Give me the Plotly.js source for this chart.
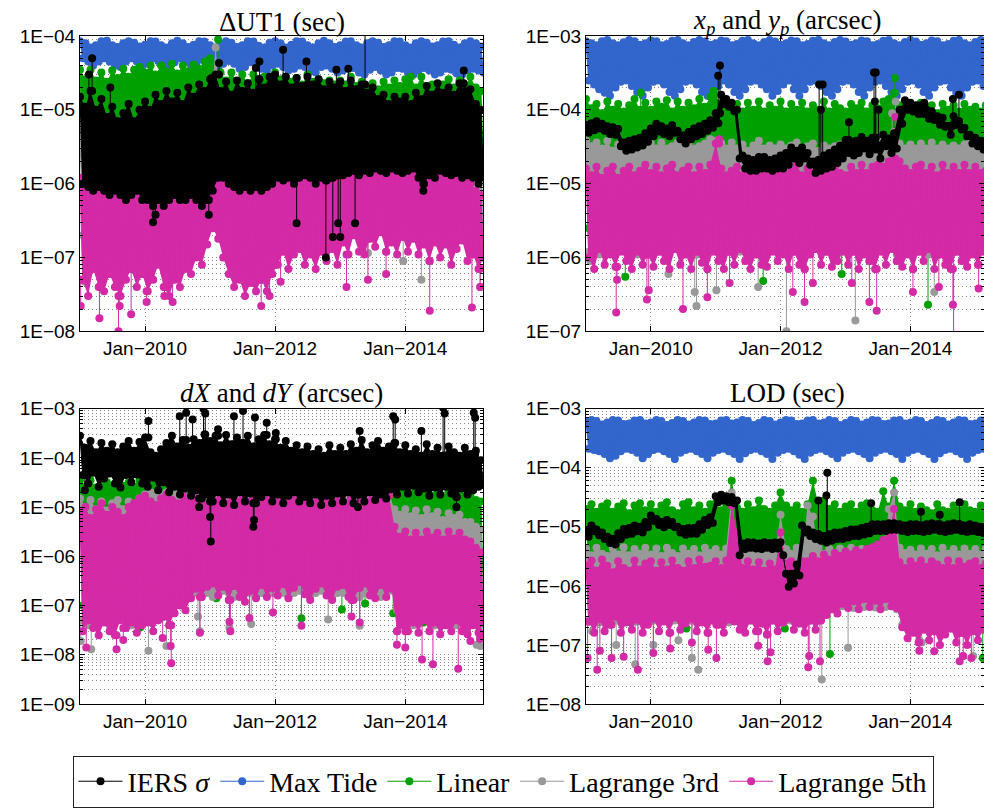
<!DOCTYPE html>
<html>
<head>
<meta charset="utf-8">
<script src="https://cdn.plot.ly/plotly-3.0.1.min.js"></script>
<style>html,body{margin:0;padding:0;background:#fff}#chart{width:984px;height:808px}</style>
</head>
<body>
<div id="chart"></div>
<script>
// ---------- categories ----------
const seriesKeys = ['tide','lin','l3','l5','iers'];
const seriesNames = {iers:'IERS <i>σ</i>', tide:'Max Tide', lin:'Linear', l3:'Lagrange 3rd', l5:'Lagrange 5th'};
const legendOrder = {iers:1, tide:2, lin:3, l3:4, l5:5};
const panelTitles = ['ΔUT1 (sec)', '<i>x<sub>p</sub></i> and <i>y<sub>p</sub></i> (arcsec)', '<i>dX</i> and <i>dY</i> (arcsec)', 'LOD (sec)'];
const xTickDates = ['2010-01-01','2012-01-01','2014-01-01'];
const xTickText = ['Jan−2010','Jan−2012','Jan−2014'];
const yDecades = [[-8,-4],[-7,-3],[-9,-3],[-8,-3]];
const firstYear = 2009, monthCount = 75; // Jan 2009 .. Mar 2015 (hi read at day 1, lo at day 16)

// ---------- ΔUT1 ----------
const dut1_tide_hi = [8.5e-5,8e-5,7e-5,7.5e-5,8.5e-5,8.6e-5,7.5e-5,7.1e-5,8e-5,8.5e-5,8.1e-5,7.2e-5,
 7.6e-5,8.5e-5,8.4e-5,7.5e-5,7e-5,8e-5,8.6e-5,8e-5,7.1e-5,7.6e-5,8.5e-5,8.4e-5,
 7.5e-5,7e-5,8e-5,8.5e-5,8.1e-5,7.1e-5,7.5e-5,8.5e-5,8.4e-5,7.4e-5,7e-5,8.1e-5,
 8.5e-5,8e-5,7e-5,7.6e-5,8.5e-5,8.4e-5,7.5e-5,7e-5,8e-5,8.6e-5,8e-5,7.1e-5,
 7.5e-5,8.4e-5,8.5e-5,7.5e-5,7e-5,8e-5,8.5e-5,8.1e-5,7.1e-5,7.5e-5,8.5e-5,8.4e-5,
 7.5e-5,7e-5,8e-5,8.5e-5,8.1e-5,7.2e-5,7.5e-5,8.4e-5,8.5e-5,7.6e-5,7e-5,8e-5,
 8.5e-5,8e-5,7.2e-5];
const dut1_tide_lo = [5e-5,4.5e-5,4e-5,4.5e-5,5e-5,4.5e-5,4e-5,3.8e-5,4.5e-5,5e-5,4.5e-5,4e-5,
 4.2e-5,5e-5,4.6e-5,4e-5,3.8e-5,4.4e-5,5e-5,4.5e-5,4e-5,4.2e-5,4.8e-5,4.5e-5,
 4e-5,3.6e-5,4.2e-5,4.6e-5,4.2e-5,3.6e-5,3.8e-5,4.4e-5,4.2e-5,3.6e-5,3.4e-5,4e-5,
 4.2e-5,3.8e-5,3.4e-5,3.6e-5,4e-5,3.8e-5,3.3e-5,3.2e-5,3.8e-5,4e-5,3.6e-5,3.2e-5,
 3.4e-5,3.9e-5,3.7e-5,3.2e-5,3e-5,3.5e-5,3.8e-5,3.4e-5,3e-5,3.2e-5,3.7e-5,3.6e-5,
 3.2e-5,3e-5,3.4e-5,3.7e-5,3.4e-5,3e-5,3.2e-5,3.6e-5,3.5e-5,3.1e-5,3e-5,3.4e-5,
 3.6e-5,3.4e-5,3.2e-5];
const dut1_tide_spk_d = [], dut1_tide_spk_v = [];
const dut1_lin_hi = [3.5e-5,2.6e-5,3.5e-5,2.5e-5,3.2e-5,2.4e-5,3.4e-5,2.7e-5,3.6e-5,2.8e-5,3.5e-5,3.8e-5,
 3.2e-5,4e-5,3e-5,4e-5,3.3e-5,4.2e-5,3.1e-5,4e-5,3.3e-5,4.1e-5,3.6e-5,4.5e-5,
 5e-5,4.2e-5,3.2e-5,2.5e-5,3.2e-5,2.4e-5,3e-5,2.3e-5,3e-5,2.4e-5,2.8e-5,2.5e-5,
 3.2e-5,2.6e-5,2.8e-5,2.4e-5,2.7e-5,2.2e-5,3e-5,2.4e-5,2.6e-5,2.3e-5,2.5e-5,2.2e-5,
 2.5e-5,2.2e-5,2.8e-5,2.1e-5,2.4e-5,2e-5,2.3e-5,1.9e-5,2.4e-5,2e-5,2.5e-5,2.1e-5,
 2.6e-5,2.8e-5,2e-5,2.8e-5,2.1e-5,2.2e-5,2e-5,2.2e-5,2.6e-5,2e-5,2.5e-5,2e-5,
 2.8e-5,2e-5,1.8e-5];
const dut1_lin_lo = [2.5e-6,2e-6,2.5e-6,3e-6,2.5e-6,2e-6,2.5e-6,2e-6,2.5e-6,2e-6,2.5e-6,3e-6,
 3e-6,2.5e-6,3e-6,3.5e-6,3e-6,3.5e-6,3e-6,3.5e-6,4e-6,3.5e-6,4e-6,3.5e-6,
 4e-6,5e-6,4e-6,3.5e-6,4e-6,3.5e-6,4e-6,3.5e-6,4e-6,3.5e-6,4e-6,4.5e-6,
 4e-6,4.5e-6,4e-6,4.5e-6,4e-6,3.5e-6,4e-6,4.5e-6,4e-6,3.5e-6,4e-6,3.5e-6,
 4e-6,3.5e-6,4e-6,4.5e-6,4e-6,3.5e-6,3e-6,3.5e-6,3e-6,3.5e-6,3e-6,3.5e-6,
 3.5e-6,4e-6,3.5e-6,4e-6,3.5e-6,4e-6,4.5e-6,4e-6,3.5e-6,4e-6,3.5e-6,3e-6,
 3e-6,2.5e-6,2e-6];
const dut1_lin_spk_d = ['2011-02-15','2011-01-01','2014-02-25'];
const dut1_lin_spk_v = [9e-5,3.2e-7,2.6e-7];
const dut1_l3_hi = [5e-6,4e-6,5e-6,4.5e-6,4e-6,3.5e-6,3e-6,3.5e-6,3e-6,3.5e-6,3e-6,3.5e-6,
 4e-6,4.5e-6,4e-6,5e-6,4.5e-6,5e-6,4.5e-6,5e-6,5.5e-6,5e-6,6e-6,6e-6,
 8e-6,7e-5,6e-6,5e-6,5.5e-6,5e-6,5.5e-6,5e-6,6e-6,5.5e-6,5e-6,6e-6,
 5.5e-6,6e-6,5e-6,5.5e-6,6e-6,5e-6,5.5e-6,6e-6,5e-6,5.5e-6,5e-6,5.5e-6,
 5e-6,5.5e-6,6e-6,5e-6,5.5e-6,5e-6,4.5e-6,5e-6,4.5e-6,4e-6,4.5e-6,4e-6,
 4.5e-6,4e-6,4.5e-6,5e-6,4.5e-6,5e-6,5.5e-6,5e-6,4.5e-6,5e-6,4.5e-6,4e-6,
 3.5e-6,3e-6,2.5e-6];
const dut1_l3_lo = [2e-7,1.5e-7,2e-7,1.8e-7,1.5e-7,2e-7,1.8e-7,1.5e-7,2e-7,1.8e-7,2e-7,1.5e-7,
 1.8e-7,2e-7,1.5e-7,1.8e-7,2e-7,2.2e-7,2e-7,2.2e-7,2.5e-7,2.2e-7,2.5e-7,3e-7,
 3.5e-7,3e-7,2.5e-7,2e-7,1.8e-7,1.5e-7,1.8e-7,1.5e-7,1.8e-7,2e-7,1.8e-7,2e-7,
 2e-7,2.2e-7,2e-7,2.5e-7,2.2e-7,2e-7,2.2e-7,2.5e-7,2.2e-7,2e-7,2.2e-7,2.5e-7,
 2.5e-7,2.8e-7,2.5e-7,3e-7,2.8e-7,2.5e-7,2.8e-7,3e-7,2.8e-7,2.5e-7,2.8e-7,2.5e-7,
 2.5e-7,2.8e-7,2.5e-7,2.8e-7,2.5e-7,2.2e-7,2.5e-7,2.8e-7,2.5e-7,2.2e-7,2.5e-7,2.2e-7,
 2e-7,2.2e-7,2e-7];
const dut1_l3_spk_d = ['2009-01-28','2009-06-15','2010-09-18','2011-09-18','2012-08-12','2013-06-05','2013-12-20','2014-04-01','2015-02-25'];
const dut1_l3_spk_v = [4.7e-8,9e-8,1.1e-7,6.6e-8,1.1e-7,1.15e-7,9e-8,5e-8,4e-8];
const dut1_l5_hi = [1.2e-6,1e-6,1.1e-6,9e-7,1e-6,1.1e-6,9e-7,1e-6,8e-7,9e-7,1e-6,1.1e-6,
 1e-6,1.2e-6,1e-6,1.1e-6,9e-7,1e-6,1.2e-6,1e-6,1.1e-6,1.3e-6,1.2e-6,1.5e-6,
 2.5e-6,3.6e-6,2.5e-6,2e-6,1.8e-6,1.6e-6,1.8e-6,1.6e-6,1.8e-6,1.7e-6,1.9e-6,2e-6,
 2e-6,1.8e-6,2.2e-6,2e-6,1.8e-6,2e-6,2.2e-6,1.9e-6,2e-6,1.8e-6,2.1e-6,2e-6,
 2e-6,1.9e-6,2.2e-6,2e-6,1.8e-6,2.1e-6,1.9e-6,2e-6,2.2e-6,2e-6,2.3e-6,2.1e-6,
 2.2e-6,2e-6,2.4e-6,2.2e-6,2e-6,2.3e-6,2.1e-6,2.4e-6,2.2e-6,2e-6,2.2e-6,1.8e-6,
 1e-6,8e-7,7e-7];
const dut1_l5_lo = [5e-8,3e-8,7e-8,4e-8,3.5e-8,6e-8,4e-8,3e-8,5e-8,7e-8,4e-8,6e-8,
 3.5e-8,5e-8,8e-8,4e-8,3e-8,5e-8,4e-8,7e-8,6e-8,1e-7,8e-8,1.5e-7,
 2.5e-7,1.8e-7,1e-7,6e-8,4e-8,5e-8,3e-8,4.5e-8,3.5e-8,5e-8,3.5e-8,6e-8,
 8e-8,1.2e-7,7e-8,1.1e-7,1.3e-7,8e-8,1.1e-7,7e-8,1.2e-7,9e-8,1.3e-7,8e-8,
 1.6e-7,1.1e-7,2e-7,1.2e-7,1.1e-7,1.8e-7,1.4e-7,2.2e-7,1.2e-7,1.6e-7,1.1e-7,1.9e-7,
 1.2e-7,1.8e-7,1.1e-7,1.5e-7,9e-8,1.6e-7,1e-7,1.5e-7,8e-8,1.3e-7,1.7e-7,9e-8,
 1.1e-7,7e-8,1e-7];
const dut1_l5_spk_d = ['2009-01-05','2009-04-20','2009-08-05','2009-08-12','2009-10-15','2010-01-10','2010-04-20','2010-06-05','2011-10-15','2011-12-01','2012-02-01','2013-02-05','2013-06-05','2013-09-15','2014-05-18','2015-01-10','2015-02-25'];
const dut1_l5_spk_v = [2.2e-8,1.5e-8,1e-8,2.2e-8,1.7e-8,2.5e-8,3e-8,2.5e-8,2.2e-8,3e-8,4.7e-8,4e-8,5e-8,6e-8,1.9e-8,2.1e-8,4e-8];
const dut1_iers_hi = [1.5e-5,1.1e-5,1.8e-5,1e-5,1.4e-5,8e-6,1.1e-5,7e-6,9e-6,1.2e-5,7e-6,1e-5,
 1.3e-5,1e-5,1.6e-5,1.2e-5,1.8e-5,1.3e-5,1.7e-5,1.2e-5,2e-5,1.5e-5,2.2e-5,1.8e-5,
 2.6e-5,3e-5,1.8e-5,2.4e-5,1.6e-5,2.5e-5,1.8e-5,2.3e-5,1.7e-5,2.6e-5,2e-5,2.8e-5,
 3e-5,2.2e-5,2.8e-5,2e-5,2.7e-5,2.1e-5,2.8e-5,2.2e-5,2.6e-5,1.9e-5,2.4e-5,2e-5,
 2.4e-5,1.8e-5,2.5e-5,1.9e-5,2.2e-5,1.7e-5,2e-5,1.4e-5,1.6e-5,1.2e-5,1.5e-5,1.3e-5,
 1.5e-5,1.2e-5,1.7e-5,1.4e-5,2.1e-5,1.6e-5,2.3e-5,1.7e-5,2e-5,1.6e-5,2.3e-5,1.8e-5,
 1.9e-5,1.2e-5,1e-5];
const dut1_iers_lo = [1e-6,9e-7,8e-7,9e-7,8e-7,7e-7,8e-7,7e-7,6e-7,7e-7,8e-7,6e-7,
 6e-7,5e-7,6e-7,5e-7,6e-7,7e-7,6e-7,6e-7,7e-7,6e-7,5e-7,6e-7,
 8e-7,1.2e-6,1.2e-6,1e-6,9e-7,8e-7,9e-7,8e-7,9e-7,8e-7,9e-7,1e-6,
 1.2e-6,1.1e-6,1.2e-6,1e-6,1.2e-6,1.3e-6,1.2e-6,1e-6,1.2e-6,1.1e-6,1.2e-6,1.3e-6,
 1.3e-6,1.4e-6,1.5e-6,1.3e-6,1.5e-6,1.4e-6,1.6e-6,1.5e-6,1.4e-6,1.6e-6,1.5e-6,1.4e-6,
 1.5e-6,1.6e-6,1.2e-6,1e-6,1.3e-6,1.2e-6,1.5e-6,1.4e-6,1.3e-6,1.4e-6,1.2e-6,1.3e-6,
 1.2e-6,1e-6,1.2e-6];
const dut1_iers_spk_d = ['2009-02-20','2009-03-10','2009-06-20','2011-01-10','2011-02-20','2011-09-15','2011-10-05','2012-02-15','2012-06-25','2012-12-10','2013-02-15','2013-05-20','2014-11-25','2010-02-15','2010-03-01','2010-12-25','2012-05-01','2012-10-12','2012-11-20','2012-12-20','2013-01-01','2013-03-25','2014-04-12'];
const dut1_iers_spk_v = [3e-5,5e-5,2e-5,2.7e-5,4.3e-5,3.7e-5,4.5e-5,6.5e-5,4.5e-5,3.5e-5,3.6e-5,1.5e-4,3.4e-5,3e-7,3.8e-7,3.8e-7,2.9e-7,1e-7,1.9e-7,2.9e-7,1.9e-7,2.9e-7,8e-7];

// ---------- x_p and y_p ----------
const pm_tide_hi = [8.5e-4,8e-4,7.5e-4,8.5e-4,8.8e-4,8e-4,7.5e-4,8.2e-4,8.8e-4,8.5e-4,7.6e-4,8e-4,
 8.7e-4,8.5e-4,7.5e-4,7.8e-4,8.6e-4,8.8e-4,8e-4,7.5e-4,8.3e-4,8.8e-4,8.4e-4,7.6e-4,
 8e-4,8.7e-4,8.5e-4,7.5e-4,7.8e-4,8.6e-4,8.8e-4,8e-4,7.5e-4,8.3e-4,8.8e-4,8.4e-4,
 7.6e-4,8e-4,8.7e-4,8.5e-4,7.5e-4,7.8e-4,8.6e-4,8.8e-4,8e-4,7.5e-4,8.3e-4,8.8e-4,
 8.4e-4,7.6e-4,8e-4,8.7e-4,8.5e-4,7.5e-4,7.8e-4,8.6e-4,8.8e-4,8e-4,7.5e-4,8.3e-4,
 8.8e-4,8.4e-4,7.6e-4,8e-4,8.7e-4,8.5e-4,7.5e-4,7.8e-4,8.6e-4,8.8e-4,8e-4,7.5e-4,
 8.3e-4,8.8e-4,8.4e-4];
const pm_tide_lo = [2.5e-4,2.2e-4,1.9e-4,1.7e-4,1.55e-4,2e-4,2.4e-4,2.5e-4,2.1e-4,1.75e-4,1.55e-4,2e-4,
 2.4e-4,2.5e-4,2.2e-4,1.75e-4,1.55e-4,1.9e-4,2.4e-4,2.5e-4,2.2e-4,1.75e-4,1.55e-4,1.7e-4,
 2.1e-4,2.5e-4,2.2e-4,1.75e-4,1.55e-4,1.9e-4,2.4e-4,2.5e-4,2.2e-4,1.9e-4,1.55e-4,1.8e-4,
 2.2e-4,2.5e-4,1.9e-4,1.55e-4,1.9e-4,2.4e-4,2.5e-4,2.1e-4,1.75e-4,1.55e-4,1.9e-4,2.4e-4,
 2.5e-4,2.2e-4,1.75e-4,1.55e-4,2e-4,2.4e-4,2.5e-4,2.1e-4,1.75e-4,1.55e-4,1.9e-4,2.4e-4,
 2.5e-4,2.2e-4,1.75e-4,1.55e-4,2e-4,2.4e-4,2.5e-4,2e-4,1.7e-4,1.55e-4,2e-4,2.4e-4,
 2.5e-4,2.1e-4,1.75e-4];
const pm_tide_spk_d = [], pm_tide_spk_v = [];
const pm_lin_hi = [1.4e-4,1.05e-4,1.2e-4,9e-5,1.3e-4,1e-4,1.2e-4,9.5e-5,1.15e-4,1.4e-4,1e-4,1.25e-4,
 1e-4,1.3e-4,1.1e-4,1.35e-4,9.5e-5,1.3e-4,1e-4,1.25e-4,1.05e-4,1.4e-4,1.1e-4,1.5e-4,
 1.25e-4,1e-4,1.3e-4,1.05e-4,1.2e-4,9.5e-5,1.25e-4,1e-4,1.3e-4,9.5e-5,1.15e-4,1e-4,
 1.3e-4,9.5e-5,1.2e-4,1e-4,1.25e-4,9.5e-5,1.15e-4,1e-4,1.3e-4,9.5e-5,1.2e-4,1.05e-4,
 9.5e-5,1.2e-4,1.05e-4,1.25e-4,9.5e-5,1.15e-4,1.05e-4,1.3e-4,1.4e-4,1.7e-4,1.15e-4,1e-4,
 1.2e-4,9.5e-5,1.25e-4,1e-4,1.15e-4,9e-5,1.2e-4,1e-4,1.15e-4,9.5e-5,1.2e-4,1e-4,
 1.1e-4,9.5e-5,1.15e-4];
const pm_lin_lo = [2.5e-6,3e-6,2.5e-6,2e-6,2.5e-6,3e-6,2.5e-6,2e-6,2.5e-6,3e-6,2.5e-6,3e-6,
 2.5e-6,2e-6,2.5e-6,3e-6,2.5e-6,2e-6,3e-6,2.5e-6,2e-6,2.5e-6,3e-6,2.5e-6,
 3e-6,2.5e-6,2e-6,2.5e-6,3e-6,2.5e-6,2e-6,2.5e-6,3e-6,2.5e-6,2e-6,2.5e-6,
 2.5e-6,3e-6,2.5e-6,2e-6,2.5e-6,3e-6,2.5e-6,2e-6,2.5e-6,3e-6,2.5e-6,2e-6,
 2.5e-6,3e-6,2.5e-6,2e-6,2.5e-6,3e-6,2.5e-6,3e-6,3.5e-6,3e-6,2.5e-6,2e-6,
 2.5e-6,3e-6,2.5e-6,2e-6,2.5e-6,3e-6,2.5e-6,2e-6,2.5e-6,3e-6,2.5e-6,2e-6,
 2.5e-6,3e-6,2.5e-6];
const pm_lin_spk_d = ['2009-11-05','2010-12-20','2013-10-05','2009-08-10','2011-09-25','2012-12-10','2014-04-10'];
const pm_lin_spk_v = [1.7e-4,1.8e-4,2.7e-4,5.5e-7,4.8e-7,6e-7,2.3e-7];
const pm_l3_hi = [3.8e-5,3.2e-5,3.6e-5,3e-5,3.8e-5,2.8e-5,3.4e-5,3e-5,3.6e-5,3e-5,3.6e-5,3e-5,
 3.5e-5,3e-5,3.6e-5,3e-5,3.2e-5,3.6e-5,3e-5,3.6e-5,3e-5,3.2e-5,3.5e-5,4e-5,
 3.8e-5,3.5e-5,3e-5,3.6e-5,3e-5,3.4e-5,2.8e-5,3.3e-5,3.8e-5,3e-5,3.3e-5,3e-5,
 3.4e-5,3e-5,3.3e-5,3.6e-5,3e-5,3.2e-5,3.5e-5,2.8e-5,3.3e-5,3e-5,3.2e-5,3.4e-5,
 3e-5,3.5e-5,3e-5,3.4e-5,3e-5,3.5e-5,3.6e-5,3.8e-5,4e-5,5e-5,3.5e-5,3e-5,
 3.4e-5,3e-5,3.5e-5,3e-5,3.6e-5,3e-5,3.4e-5,3e-5,3.3e-5,3e-5,3.4e-5,3.6e-5,
 3e-5,3.5e-5,3e-5];
const pm_l3_lo = [1.2e-6,1.4e-6,1.1e-6,1.3e-6,1.2e-6,1.5e-6,1.3e-6,1.2e-6,1.4e-6,1.1e-6,1.3e-6,1.2e-6,
 1.3e-6,1.2e-6,1.4e-6,1.1e-6,1.3e-6,1.5e-6,1.2e-6,1.3e-6,1.1e-6,1.4e-6,1.2e-6,1.3e-6,
 1.2e-6,1.4e-6,1.3e-6,1.1e-6,1.2e-6,1.4e-6,1.3e-6,1.5e-6,1.2e-6,1.1e-6,1.3e-6,1.2e-6,
 1.4e-6,1.2e-6,1.3e-6,1.1e-6,1.4e-6,1.2e-6,1.3e-6,1.5e-6,1.2e-6,1.3e-6,1.1e-6,1.4e-6,
 1.2e-6,1.3e-6,1.1e-6,1.4e-6,1.2e-6,1.3e-6,1.5e-6,1.2e-6,1.4e-6,1.1e-6,1.3e-6,1.2e-6,
 1.3e-6,1.2e-6,1.4e-6,1.1e-6,1.3e-6,1.2e-6,1.5e-6,1.3e-6,1.2e-6,1.4e-6,1.1e-6,1.3e-6,
 1.2e-6,1.4e-6,1.3e-6];
const pm_l3_spk_d = ['2009-01-25','2010-04-10','2010-09-05','2010-09-15','2011-01-05','2011-08-28','2012-02-03','2013-02-25','2014-05-15','2013-09-20','2013-10-10'];
const pm_l3_spk_v = [9e-7,6e-7,3.4e-7,2.2e-7,3.6e-7,4e-7,1e-7,1.4e-7,3.4e-7,9e-5,1.3e-4];
const pm_l5_hi = [1.6e-5,1.3e-5,1.7e-5,1.2e-5,1.5e-5,1.7e-5,1.2e-5,1.5e-5,1.7e-5,1.3e-5,1.5e-5,1.8e-5,
 1.4e-5,1.7e-5,1.3e-5,1.6e-5,1.8e-5,1.3e-5,1.5e-5,1.7e-5,1.3e-5,1.7e-5,1.4e-5,1.8e-5,
 3.5e-5,1.6e-5,1.3e-5,1.5e-5,1.7e-5,1.3e-5,1.7e-5,1.3e-5,1.5e-5,1.7e-5,1.3e-5,1.6e-5,
 1.7e-5,1.3e-5,1.5e-5,1.8e-5,1.3e-5,1.6e-5,1.4e-5,1.3e-5,1.7e-5,1.4e-5,1.7e-5,1.4e-5,
 1.3e-5,1.7e-5,1.4e-5,1.8e-5,1.4e-5,1.7e-5,1.8e-5,1.7e-5,2e-5,2.2e-5,2e-5,1.6e-5,
 1.4e-5,1.7e-5,1.8e-5,1.4e-5,1.7e-5,1.3e-5,1.8e-5,1.4e-5,1.7e-5,1.4e-5,1.8e-5,1.4e-5,
 1.7e-5,1.4e-5,1.5e-5];
const pm_l5_lo = [1e-6,7e-7,1.3e-6,8e-7,1.1e-6,7.5e-7,1.2e-6,9e-7,7e-7,1.2e-6,8e-7,1.1e-6,
 7.5e-7,1.2e-6,9e-7,7e-7,1.3e-6,8e-7,1.1e-6,7e-7,1.2e-6,8.5e-7,7e-7,1.2e-6,
 9e-7,7e-7,1.2e-6,8e-7,1.3e-6,9e-7,7e-7,1.1e-6,8e-7,7.5e-7,1.2e-6,9e-7,
 1.1e-6,7e-7,1.2e-6,8e-7,7e-7,1.1e-6,1.3e-6,8e-7,1.2e-6,7.5e-7,9e-7,1.2e-6,
 8e-7,1.2e-6,7e-7,1.1e-6,9e-7,7e-7,1.2e-6,8e-7,1.3e-6,9e-7,7.5e-7,1.1e-6,
 7e-7,1.2e-6,9e-7,1.3e-6,7e-7,1.1e-6,8e-7,7e-7,1.2e-6,9e-7,7.5e-7,1.1e-6,
 8e-7,1.2e-6,9e-7];
const pm_l5_spk_d = ['2009-06-20','2009-06-25','2009-12-10','2009-12-20','2010-07-01','2010-11-15','2011-03-20','2012-03-10','2012-05-15','2012-07-01','2013-02-05','2013-05-15','2013-06-25','2014-01-15','2014-06-10','2014-08-28','2014-09-01','2015-01-20','2011-01-20','2013-10-08'];
const pm_l5_spk_v = [1.8e-7,5e-7,2.7e-7,3.6e-7,2e-7,2.9e-7,4.5e-7,3.4e-7,2.5e-7,4.5e-7,4.5e-7,2.5e-7,1.9e-7,3.4e-7,4e-7,2.3e-7,8e-8,3.8e-7,4e-5,8e-5];
const pm_iers_hi = [6.2e-5,6.6e-5,7e-5,6.5e-5,6e-5,5.8e-5,5.5e-5,3.6e-5,3.8e-5,4e-5,4.2e-5,4.8e-5,
 5.6e-5,6.5e-5,6e-5,5.6e-5,6.2e-5,5.2e-5,4.5e-5,5e-5,5.6e-5,6e-5,6.5e-5,7.2e-5,
 9e-5,1.6e-4,1.4e-4,1.25e-4,1e-4,2.4e-5,2.2e-5,2.1e-5,2.3e-5,2.3e-5,2.1e-5,2.2e-5,
 2.4e-5,2.6e-5,3.1e-5,2.8e-5,3.1e-5,2.6e-5,2e-5,2.1e-5,2.4e-5,2.6e-5,2.9e-5,3.3e-5,
 3.9e-5,3.5e-5,3.8e-5,4.3e-5,3.8e-5,4.2e-5,3.3e-5,4.6e-5,4.1e-5,4.8e-5,1e-4,1.35e-4,
 1.25e-4,1.15e-4,1.15e-4,1e-4,9.6e-5,8.2e-5,7.8e-5,6.1e-5,8.2e-5,7e-5,5.7e-5,4.6e-5,
 4.2e-5,3.8e-5,3.8e-5];
const pm_iers_lo = [4.9e-5,5.3e-5,5.6e-5,5.2e-5,4.7e-5,4.6e-5,3.2e-5,2.8e-5,2.9e-5,3.1e-5,3.3e-5,3.7e-5,
 4.4e-5,5.1e-5,4.7e-5,4.4e-5,4.9e-5,4e-5,3.5e-5,4e-5,4.4e-5,4.7e-5,5.2e-5,5.7e-5,
 6.6e-5,1.2e-4,1.1e-4,9.6e-5,2.2e-5,1.6e-5,1.5e-5,1.5e-5,1.6e-5,1.6e-5,1.5e-5,1.6e-5,
 1.6e-5,1.8e-5,2.2e-5,1.9e-5,2.2e-5,1.8e-5,1.4e-5,1.5e-5,1.6e-5,1.7e-5,1.9e-5,2.2e-5,
 2.6e-5,2.4e-5,2.6e-5,3e-5,2.5e-5,2.9e-5,2.2e-5,3.2e-5,2.6e-5,3e-5,6.5e-5,1e-4,
 9.5e-5,8.8e-5,8.8e-5,7.6e-5,7.3e-5,6.3e-5,5.9e-5,4.6e-5,6.3e-5,5.4e-5,4.4e-5,3.5e-5,
 3.2e-5,2.9e-5,2.9e-5];
const pm_iers_spk_d = ['2011-01-15','2011-01-25','2012-08-05','2012-08-15','2012-08-25','2013-01-20','2013-06-10','2013-06-15','2013-06-20','2013-07-05','2014-03-20','2014-08-28','2014-10-01'];
const pm_iers_spk_v = [2.9e-4,4e-4,2.2e-4,1e-4,2.2e-4,6.8e-5,3.2e-4,1.3e-4,3.2e-4,1e-4,1.25e-4,1.4e-4,1.6e-4];

// ---------- dX and dY ----------
const dxy_tide_hi = [], dxy_tide_lo = [], dxy_tide_spk_d = [], dxy_tide_spk_v = [];
const dxy_lin_hi = [3.5e-5,2.6e-5,3.5e-5,2.5e-5,3e-5,3.2e-5,2.5e-5,3.5e-5,2.7e-5,3.2e-5,2.6e-5,3.5e-5,
 2.8e-5,3.5e-5,3e-5,2.6e-5,3e-5,3.2e-5,2.6e-5,2.5e-5,2.2e-5,2e-5,1.8e-5,1.5e-5,
 1.4e-5,1.5e-5,1.3e-5,1.5e-5,1.4e-5,1.3e-5,1.5e-5,1.4e-5,1.3e-5,1.4e-5,1.5e-5,1.4e-5,
 1.3e-5,1.4e-5,1.5e-5,1.3e-5,1.4e-5,1.3e-5,1.4e-5,1.2e-5,1.3e-5,1.4e-5,1.3e-5,1.4e-5,
 1.3e-5,1.4e-5,1.3e-5,1.5e-5,1.3e-5,1.4e-5,1.5e-5,1.8e-5,2e-5,2.2e-5,2.4e-5,2e-5,
 2.5e-5,1.9e-5,2.3e-5,1.8e-5,2.4e-5,1.7e-5,2.2e-5,1.6e-5,2.1e-5,1.5e-5,1.9e-5,1.6e-5,
 1.8e-5,1.4e-5,1.3e-5];
const dxy_lin_lo = [1e-7,8e-8,1e-7,1.2e-7,1e-7,8e-8,1e-7,1.2e-7,1e-7,8e-8,1e-7,1.2e-7,
 1e-7,1.2e-7,1e-7,1.5e-7,2e-7,2.5e-7,3e-7,3.5e-7,3e-7,3.5e-7,3e-7,3.5e-7,
 3e-7,3.5e-7,3e-7,3.5e-7,4e-7,3.5e-7,3e-7,3.5e-7,3e-7,3.5e-7,3e-7,3.5e-7,
 3.5e-7,3e-7,3.5e-7,3e-7,3.5e-7,4e-7,3.5e-7,3e-7,3.5e-7,3e-7,3.5e-7,3e-7,
 3.5e-7,3e-7,3.5e-7,3e-7,3.5e-7,3e-7,3.5e-7,3e-7,3.5e-7,3e-7,1.5e-7,1e-7,
 8e-8,1e-7,1.2e-7,1e-7,8e-8,1e-7,1.2e-7,1e-7,8e-8,1e-7,1.2e-7,1e-7,
 8e-8,1e-7,1.2e-7];
const dxy_lin_spk_d = ['2009-12-05','2010-02-05','2011-02-05','2011-09-10','2012-05-28','2012-08-20','2013-01-10','2013-05-20','2013-10-25','2014-04-12'];
const dxy_lin_spk_v = [3.6e-8,8.3e-8,1.4e-7,2.3e-7,5.5e-8,2e-7,8.3e-8,1.1e-7,7e-8,4.5e-8];
const dxy_l3_hi = [1.5e-5,1e-5,1.4e-5,9e-6,1.3e-5,8.5e-6,1.2e-5,1.4e-5,9e-6,1.3e-5,1e-5,1.5e-5,
 1.8e-5,2e-5,1.6e-5,1.8e-5,2e-5,1.7e-5,2e-5,1.8e-5,1.6e-5,1.8e-5,2e-5,1.8e-5,
 2e-5,1.8e-5,2.2e-5,2e-5,1.8e-5,2e-5,2.2e-5,2.3e-5,2e-5,2.2e-5,2e-5,1.8e-5,
 2e-5,1.8e-5,2e-5,2.2e-5,1.9e-5,1.8e-5,2e-5,1.8e-5,1.9e-5,1.7e-5,1.8e-5,2e-5,
 1.8e-5,1.9e-5,1.7e-5,1.8e-5,2e-5,1.8e-5,1.7e-5,1.9e-5,1.8e-5,2e-5,9e-6,7e-6,
 9e-6,6.5e-6,8.5e-6,6e-6,9e-6,6.5e-6,8e-6,5.5e-6,7.5e-6,6e-6,7e-6,5e-6,
 5e-6,4e-6,3.5e-6];
const dxy_l3_lo = [5e-8,4e-8,5e-8,6e-8,5e-8,4e-8,5e-8,6e-8,5e-8,4e-8,5e-8,6e-8,
 5e-8,6e-8,5e-8,6e-8,8e-8,1e-7,1.5e-7,1.8e-7,1.5e-7,1.8e-7,2e-7,1.8e-7,
 1.5e-7,1.8e-7,2e-7,1.8e-7,1.5e-7,1.8e-7,2e-7,1.8e-7,1.5e-7,1.8e-7,2e-7,1.8e-7,
 2e-7,1.8e-7,1.5e-7,1.8e-7,2e-7,1.8e-7,1.5e-7,1.8e-7,2e-7,1.8e-7,1.5e-7,1.8e-7,
 1.8e-7,2e-7,1.8e-7,1.5e-7,1.8e-7,2e-7,1.8e-7,1.5e-7,1.8e-7,2e-7,8e-8,5e-8,
 5e-8,4e-8,5e-8,6e-8,5e-8,4e-8,5e-8,6e-8,5e-8,4e-8,5e-8,4e-8,
 5e-8,4e-8,5e-8];
const dxy_l3_spk_d = ['2009-01-05','2009-03-05','2010-01-20','2010-05-01','2010-10-25','2010-11-05','2011-04-20','2011-08-20','2012-10-25','2013-04-20','2015-02-05','2015-02-25'];
const dxy_l3_spk_v = [1.9e-8,1.3e-8,1.2e-8,1.5e-8,6e-8,3e-8,3.6e-8,4.2e-8,5.2e-8,3.9e-8,1.6e-8,1.5e-8];
const dxy_l5_hi = [8e-6,1e-5,6e-6,9e-6,1.2e-5,7e-6,1e-5,8e-6,6e-6,1e-5,1.2e-5,1.5e-5,
 1.7e-5,1.3e-5,1.1e-5,1.5e-5,1.8e-5,1.4e-5,1.2e-5,1.7e-5,1.3e-5,1.6e-5,1.2e-5,1.1e-5,
 1e-5,1.3e-5,1.6e-5,1.2e-5,1.7e-5,1.3e-5,1.8e-5,1.3e-5,1.6e-5,1.9e-5,1.3e-5,1.6e-5,
 1.4e-5,1.8e-5,1.3e-5,1.8e-5,1.4e-5,1.2e-5,1.6e-5,1.7e-5,1.3e-5,1.5e-5,1.7e-5,1.3e-5,
 1.5e-5,1.2e-5,1.6e-5,1.2e-5,1.6e-5,1.3e-5,1.7e-5,1.4e-5,1.8e-5,1.7e-5,4e-6,2.5e-6,
 3.2e-6,2.2e-6,3e-6,2.2e-6,3.2e-6,2.4e-6,3e-6,2.2e-6,3.2e-6,2.3e-6,3e-6,2.2e-6,
 2e-6,1.5e-6,1.2e-6];
const dxy_l5_lo = [3e-8,5e-8,3.5e-8,2.5e-8,4.5e-8,3e-8,2.5e-8,5e-8,3.5e-8,4.5e-8,2.8e-8,4e-8,
 4.5e-8,3e-8,5e-8,6e-8,4e-8,7e-8,1e-7,8e-8,1.4e-7,2.2e-7,1.5e-7,2.4e-7,
 2.8e-7,1.6e-7,2.4e-7,1.3e-7,2.5e-7,1.5e-7,1.2e-7,2e-7,1.4e-7,2.6e-7,1.5e-7,2.3e-7,
 1.6e-7,2.7e-7,1.4e-7,2.3e-7,3e-7,1.7e-7,1.3e-7,2.2e-7,2.8e-7,1.6e-7,1.3e-7,2.4e-7,
 2.6e-7,1.5e-7,1.3e-7,2.3e-7,2.8e-7,1.6e-7,1.4e-7,2.6e-7,1.5e-7,2.2e-7,3e-8,4e-8,
 3e-8,4.5e-8,2.8e-8,5e-8,3e-8,4.5e-8,2.6e-8,4e-8,3e-8,5e-8,3e-8,2.6e-8,
 4e-8,2.8e-8,4.5e-8];
const dxy_l5_spk_d = ['2009-02-05','2009-07-25','2009-09-01','2010-04-10','2010-05-25','2010-05-28','2010-11-05','2011-04-20','2011-04-25','2011-08-10','2011-12-20','2012-05-28','2013-03-05','2013-04-20','2013-11-15','2014-01-01','2014-04-05','2014-06-05','2014-10-25','2015-01-01','2015-02-25'];
const dxy_l5_spk_v = [1.4e-8,1.3e-8,2e-8,2.2e-8,1.5e-8,6.7e-9,2.8e-8,4.7e-8,3e-8,5.6e-8,7.2e-8,3.9e-8,6e-8,4.5e-8,1.6e-8,1.4e-8,8e-9,6.4e-9,5.2e-9,1.9e-8,2.1e-8];
const dxy_iers_hi = [2.8e-4,1.6e-4,2.2e-4,1.3e-4,2e-4,1.4e-4,1.9e-4,1.3e-4,1.7e-4,2.2e-4,1.4e-4,2.1e-4,
 2.6e-4,1.3e-4,1.1e-4,1.5e-4,2e-4,2.8e-4,1.7e-4,2.3e-4,1.6e-4,2.4e-4,2e-4,3e-4,
 2.2e-4,2.8e-4,1.8e-4,2.9e-4,1.9e-4,2.6e-4,2e-4,2.8e-4,1.7e-4,2.4e-4,2.9e-4,1.9e-4,
 2.4e-4,1.6e-4,2.2e-4,1.4e-4,1.8e-4,1.3e-4,1.7e-4,1.2e-4,1.5e-4,1.1e-4,1.8e-4,1.2e-4,
 1.6e-4,1.2e-4,1.9e-4,1.4e-4,2.3e-4,1.3e-4,1.8e-4,2.2e-4,1.4e-4,1.7e-4,2e-4,1.3e-4,
 1.8e-4,1.2e-4,1.5e-4,1.1e-4,1.9e-4,1.2e-4,1.6e-4,1.1e-4,1.7e-4,1.3e-4,1.1e-4,1.6e-4,
 1.2e-4,1.4e-4,9e-5];
const dxy_iers_lo = [4.5e-5,3e-5,5e-5,2.6e-5,3.8e-5,4.8e-5,3e-5,2.5e-5,4.5e-5,3.2e-5,4.6e-5,3e-5,
 2.6e-5,4e-5,2.2e-5,3.2e-5,2e-5,2.6e-5,1.8e-5,2.4e-5,1.7e-5,2.2e-5,1.5e-5,1.8e-5,
 1.3e-5,2e-5,1.2e-5,1.8e-5,1.1e-5,2e-5,1.3e-5,1.9e-5,1.2e-5,1.6e-5,2e-5,1.3e-5,
 1.8e-5,1.2e-5,1.7e-5,2e-5,1.3e-5,1.6e-5,1.2e-5,1.8e-5,1.1e-5,1.7e-5,1.2e-5,1.9e-5,
 1.3e-5,2e-5,1.2e-5,1.8e-5,1.3e-5,2e-5,1.4e-5,1.8e-5,1.5e-5,2.3e-5,1.8e-5,2.6e-5,
 1.9e-5,2.7e-5,2e-5,2.4e-5,1.7e-5,2.5e-5,1.8e-5,2.6e-5,1.9e-5,1.6e-5,2.4e-5,1.8e-5,
 2.2e-5,2.6e-5,2.8e-5];
const dxy_iers_spk_d = ['2010-01-20','2010-07-15','2010-08-20','2010-09-25','2010-11-25','2010-12-05','2011-02-15','2011-05-15','2011-07-05','2011-09-10','2011-11-15','2012-01-05','2013-04-20','2013-10-25','2013-11-05','2014-04-01','2014-08-01','2014-08-10','2015-01-20','2015-01-28','2009-01-28','2010-11-01','2011-01-01','2011-01-05','2011-09-01','2011-09-05','2013-04-10','2014-10-15'];
const dxy_iers_spk_v = [5.6e-4,7e-4,8.3e-4,6e-4,1e-3,8e-4,3.8e-4,7e-4,9e-4,6.6e-4,5.2e-4,3.2e-4,3.5e-4,7e-4,6e-4,3.5e-4,1.05e-3,8e-4,8.3e-4,6.5e-4,2.2e-5,1e-5,6.3e-6,2e-6,4e-6,5.5e-6,1e-5,1e-5];

// ---------- LOD ----------
const lod_tide_hi = [6e-4,6.4e-4,6.2e-4,5.4e-4,5.8e-4,6.4e-4,6.3e-4,5.5e-4,5.6e-4,6.3e-4,6.4e-4,5.6e-4,
 5.8e-4,6.4e-4,6.2e-4,5.3e-4,5.7e-4,6.4e-4,6.2e-4,5.4e-4,5.8e-4,6.4e-4,6.3e-4,5.5e-4,
 5.6e-4,6.3e-4,6.4e-4,5.6e-4,5.8e-4,6.4e-4,6.2e-4,5.3e-4,5.7e-4,6.4e-4,6.2e-4,5.4e-4,
 5.8e-4,6.4e-4,6.3e-4,5.5e-4,5.6e-4,6.3e-4,6.4e-4,5.6e-4,5.8e-4,6.4e-4,6.2e-4,5.3e-4,
 5.7e-4,6.4e-4,6.2e-4,5.4e-4,5.8e-4,6.4e-4,6.3e-4,5.5e-4,5.6e-4,6.3e-4,6.4e-4,5.6e-4,
 5.8e-4,6.4e-4,6.2e-4,5.3e-4,5.7e-4,6.4e-4,6.2e-4,5.4e-4,5.8e-4,6.4e-4,6.3e-4,5.5e-4,
 5.6e-4,6.3e-4,6.4e-4];
const lod_tide_lo = [2.1e-4,2e-4,1.9e-4,1.7e-4,1.45e-4,1.6e-4,1.9e-4,2.1e-4,2e-4,1.8e-4,1.45e-4,1.7e-4,
 2e-4,2.1e-4,1.9e-4,1.7e-4,1.4e-4,1.8e-4,2e-4,2.1e-4,1.9e-4,1.7e-4,1.45e-4,1.8e-4,
 2e-4,2.1e-4,1.9e-4,1.7e-4,1.4e-4,1.75e-4,2e-4,2.1e-4,1.9e-4,1.7e-4,1.4e-4,1.8e-4,
 2e-4,2.1e-4,1.9e-4,1.65e-4,1.4e-4,1.8e-4,2e-4,2.1e-4,1.9e-4,1.7e-4,1.45e-4,1.8e-4,
 2e-4,2.1e-4,1.9e-4,1.7e-4,1.45e-4,1.8e-4,2e-4,2.1e-4,1.9e-4,1.7e-4,1.4e-4,1.8e-4,
 2e-4,2.1e-4,1.9e-4,1.7e-4,1.4e-4,1.75e-4,2e-4,2.1e-4,1.9e-4,1.7e-4,1.4e-4,1.8e-4,
 2e-4,2.1e-4,1.9e-4];
const lod_tide_spk_d = [], lod_tide_spk_v = [];
const lod_lin_hi = [2e-5,2.4e-5,1.8e-5,2.2e-5,2.5e-5,1.8e-5,2.2e-5,2.5e-5,1.7e-5,2.3e-5,2.5e-5,1.9e-5,
 2.4e-5,1.8e-5,2.3e-5,2.6e-5,1.9e-5,1.7e-5,2.4e-5,2.6e-5,1.9e-5,2.3e-5,1.8e-5,2.4e-5,
 2.5e-5,1.9e-5,2.3e-5,6e-5,2.1e-5,1.8e-5,2.4e-5,1.9e-5,2.8e-5,2e-5,1.8e-5,2.3e-5,
 3.8e-5,2.3e-5,1.9e-5,2.3e-5,1.8e-5,2.4e-5,6e-5,2.4e-5,2.8e-5,2e-5,2.4e-5,1.8e-5,
 2.2e-5,2.4e-5,1.8e-5,2.3e-5,2.5e-5,1.9e-5,1.8e-5,4e-5,2.2e-5,6e-5,2.2e-5,1.9e-5,
 2.4e-5,1.8e-5,2.2e-5,1.9e-5,1.7e-5,2.4e-5,1.9e-5,1.8e-5,2.3e-5,1.9e-5,2.4e-5,1.9e-5,
 1.8e-5,2.3e-5,1.9e-5];
const lod_lin_lo = [1.5e-6,1.8e-6,1.4e-6,1.6e-6,1.5e-6,1.7e-6,1.4e-6,1.6e-6,1.8e-6,1.5e-6,1.6e-6,1.4e-6,
 1.6e-6,1.5e-6,1.7e-6,1.4e-6,1.6e-6,1.8e-6,1.5e-6,1.6e-6,1.4e-6,1.7e-6,1.5e-6,1.6e-6,
 1.5e-6,1.7e-6,1.4e-6,1.6e-6,1.8e-6,1.5e-6,1.6e-6,1.4e-6,1.7e-6,1.5e-6,1.6e-6,1.8e-6,
 1.4e-6,1.6e-6,1.5e-6,1.7e-6,1.4e-6,1.6e-6,1.8e-6,1.5e-6,1.6e-6,1.4e-6,1.7e-6,1.5e-6,
 1.6e-6,1.8e-6,1.5e-6,1.6e-6,1.4e-6,1.7e-6,1.5e-6,1.6e-6,1.8e-6,1.4e-6,1.6e-6,1.5e-6,
 1.7e-6,1.4e-6,1.6e-6,1.8e-6,1.5e-6,1.6e-6,1.4e-6,1.7e-6,1.5e-6,1.6e-6,1.8e-6,1.4e-6,
 1.5e-6,1.6e-6,1.4e-6];
const lod_lin_spk_d = ['2010-07-20','2012-01-25','2012-11-01','2012-10-05','2015-02-12'];
const lod_lin_spk_v = [1.9e-7,1.9e-7,4.6e-7,7e-8,6e-8];
const lod_l3_hi = [4.2e-6,3.3e-6,4.4e-6,3.5e-6,3.2e-6,4.3e-6,3.4e-6,4.5e-6,3.3e-6,4.2e-6,3.5e-6,4.4e-6,
 3.4e-6,4.3e-6,3.2e-6,4.4e-6,3.6e-6,3.2e-6,4.3e-6,3.5e-6,4.2e-6,3.3e-6,4.4e-6,3.6e-6,
 4.2e-6,3.4e-6,4.3e-6,3.8e-5,4.4e-6,3.5e-6,4.2e-6,3.3e-6,4.3e-6,3.5e-6,4.2e-6,3.4e-6,
 1.6e-5,4.2e-6,3.5e-6,4.4e-6,3.4e-6,2.3e-5,1.5e-5,4.4e-6,3.5e-6,4.2e-6,3.3e-6,4.3e-6,
 3.6e-6,4.4e-6,3.5e-6,4.2e-6,3.4e-6,4.3e-6,4e-6,4e-6,2e-5,3.8e-5,4.4e-6,3.6e-6,
 4.1e-6,3.4e-6,4.3e-6,3.5e-6,4.2e-6,3.3e-6,4.4e-6,3.5e-6,4.2e-6,3.4e-6,4.3e-6,3.5e-6,
 4.2e-6,3.4e-6,4.2e-6];
const lod_l3_lo = [2.5e-7,2.8e-7,2.4e-7,2.6e-7,2.5e-7,2.7e-7,2.4e-7,2.6e-7,2.8e-7,2.5e-7,2.6e-7,2.4e-7,
 2.6e-7,2.5e-7,2.7e-7,2.4e-7,2.6e-7,2.8e-7,2.5e-7,2.6e-7,2.4e-7,2.7e-7,2.5e-7,2.6e-7,
 2.5e-7,2.7e-7,2.4e-7,2.6e-7,2.8e-7,2.5e-7,2.6e-7,2.4e-7,2.7e-7,2.5e-7,2.6e-7,2.8e-7,
 2.4e-7,2.6e-7,2.5e-7,2.7e-7,2.4e-7,2.6e-7,2.8e-7,3e-7,3.5e-7,4e-7,4.2e-7,4.5e-7,
 4.5e-7,4.2e-7,4.6e-7,4.4e-7,4.5e-7,4.3e-7,4.6e-7,4.4e-7,4.5e-7,4e-7,2.2e-7,2e-7,
 2e-7,1.9e-7,2.1e-7,2e-7,1.9e-7,2.1e-7,2e-7,1.9e-7,2.1e-7,2e-7,1.9e-7,2e-7,
 2e-7,2.1e-7,1.9e-7];
const lod_l3_spk_d = ['2009-02-05','2009-06-20','2009-10-05','2010-01-15','2010-06-05','2010-08-20','2010-09-25','2012-08-20','2013-01-15','2014-02-20','2014-03-05','2014-12-20'];
const lod_l3_spk_v = [1.7e-7,1e-7,4.7e-8,1e-7,1.2e-7,6e-8,3.8e-8,2.6e-8,9e-8,1.2e-7,1.1e-7,6.5e-8];
const lod_l5_hi = [2.2e-6,2.7e-6,1.8e-6,2.8e-6,2.2e-6,1.7e-6,2.6e-6,2e-6,1.8e-6,2.7e-6,1.9e-6,2.4e-6,
 2.6e-6,1.8e-6,2.5e-6,1.9e-6,2.7e-6,2e-6,1.8e-6,2.6e-6,2e-6,2.8e-6,2.1e-6,2.2e-6,
 2.6e-6,2e-6,2.7e-6,2.3e-5,8e-6,2e-6,2.6e-6,1.9e-6,2.5e-6,1.8e-6,2.4e-6,1.9e-6,
 8e-6,2.4e-6,2.6e-6,2.2e-6,2.6e-6,2.6e-6,3.2e-6,2.6e-6,3.4e-6,2.8e-6,3.6e-6,3.2e-6,
 3.8e-6,3.4e-6,4e-6,3.6e-6,4.2e-6,4.5e-6,5e-6,6e-6,8e-6,2e-5,2.5e-6,2e-6,
 2.6e-6,2.2e-6,2.7e-6,2.1e-6,2.6e-6,2.3e-6,2e-6,2.7e-6,2e-6,2.6e-6,2.1e-6,2.4e-6,
 2.6e-6,2e-6,2.4e-6];
const lod_l5_lo = [2.5e-7,1.6e-7,2.8e-7,1.7e-7,2.2e-7,3e-7,1.6e-7,2.4e-7,1.8e-7,2.7e-7,1.6e-7,2.2e-7,
 2.8e-7,1.7e-7,2.5e-7,1.6e-7,2.9e-7,1.8e-7,2.3e-7,2.8e-7,1.7e-7,2.4e-7,1.6e-7,2.6e-7,
 2.2e-7,1.6e-7,2.7e-7,2.5e-7,1.8e-7,1.6e-7,2.6e-7,1.7e-7,2.3e-7,1.5e-7,2.6e-7,1.7e-7,
 2.4e-7,2.8e-7,1.8e-7,2.3e-7,1.6e-7,2.6e-7,1.8e-7,2.6e-7,3.2e-7,4e-7,3.4e-7,5e-7,
 4.2e-7,5.5e-7,4e-7,6e-7,4.4e-7,5.6e-7,4e-7,6e-7,4.5e-7,4.2e-7,2e-7,1.3e-7,
 1.6e-7,1.1e-7,1.8e-7,1.2e-7,1.7e-7,1e-7,1.5e-7,1.9e-7,1.1e-7,1.6e-7,1e-7,1.7e-7,
 1.2e-7,1.8e-7,1.3e-7];
const lod_l5_spk_d = ['2009-01-10','2009-03-05','2009-03-20','2009-05-25','2009-08-01','2009-10-20','2010-01-15','2010-04-20','2010-08-20','2010-11-20','2011-01-05','2011-08-28','2011-10-20','2011-11-05','2012-06-05','2012-06-10','2012-08-10','2014-02-20','2014-05-15','2014-10-05','2014-10-25','2014-12-10'];
const lod_l5_spk_v = [6e-8,3.8e-8,8e-8,6e-8,6.3e-8,3.8e-8,7.3e-8,8.7e-8,1.1e-7,8.3e-8,6e-8,9.7e-8,5.3e-8,7.5e-8,4.2e-8,6.5e-8,5.3e-8,8e-8,7.8e-8,5.3e-8,6.5e-8,6e-8];
const lod_iers_hi = [8.8e-6,1.05e-5,9e-6,8e-6,6.8e-6,6.3e-6,7.8e-6,9.2e-6,9.5e-6,1.05e-5,1e-5,1.2e-5,
 1.55e-5,1.35e-5,1.2e-5,1.3e-5,1.2e-5,1e-5,9.2e-6,9.5e-6,9.5e-6,1.1e-5,1.3e-5,1.45e-5,
 3.3e-5,3.5e-5,3.3e-5,3.2e-5,2.8e-5,5.2e-6,5.5e-6,5.4e-6,5.2e-6,5.5e-6,5.3e-6,5.4e-6,
 5.5e-6,1.6e-6,1.6e-6,2.3e-6,1.05e-5,9e-6,8e-6,7.5e-6,7e-6,7.5e-6,8e-6,8e-6,
 8.5e-6,9e-6,9e-6,9.5e-6,1e-5,1.1e-5,1.1e-5,1.1e-5,1.15e-5,1.15e-5,1.1e-5,1.05e-5,
 1.1e-5,1.1e-5,1.05e-5,1.1e-5,1.15e-5,1.1e-5,1.05e-5,1.1e-5,1.15e-5,1.1e-5,1.05e-5,1.1e-5,
 1.05e-5,1e-5,1e-5];
const lod_iers_lo = [6.8e-6,8.4e-6,7.2e-6,6.2e-6,5.3e-6,5e-6,6.2e-6,7.3e-6,7.6e-6,8.4e-6,8e-6,9.8e-6,
 1.25e-5,1.07e-5,9.8e-6,1.07e-5,9.8e-6,8e-6,7.3e-6,7.6e-6,7.6e-6,8.9e-6,1.07e-5,1.16e-5,
 2.6e-5,2.8e-5,2.6e-5,2.5e-5,3.3e-6,4.2e-6,4.4e-6,4.3e-6,4.2e-6,4.4e-6,4.2e-6,4.3e-6,
 3.3e-6,9.7e-7,1.1e-6,1.5e-6,8e-6,7e-6,6.2e-6,5.8e-6,5.4e-6,5.8e-6,6.2e-6,6.2e-6,
 6.6e-6,7e-6,7e-6,7.4e-6,7.8e-6,8.5e-6,8.5e-6,8.5e-6,8.9e-6,8.9e-6,8.5e-6,8.2e-6,
 8.5e-6,8.5e-6,8.2e-6,8.5e-6,8.9e-6,8.5e-6,8.2e-6,8.5e-6,8.9e-6,8.5e-6,8.2e-6,8.5e-6,
 8.2e-6,7.8e-6,7.8e-6];
const lod_iers_spk_d = ['2012-08-01','2012-09-15','2012-09-20','2013-05-25','2014-03-01','2014-06-15','2014-10-05'];
const lod_iers_spk_v = [2.8e-5,3.4e-5,8.2e-5,2.5e-5,1.8e-5,1.6e-5,2.6e-5];

// ---------- styling ----------
const COLORS = {iers:'#000000', tide:'#3366CC', lin:'#00A000', l3:'#999999', l5:'#D42AA6'};
const MS = 8, LW = 1;

const months = [];
for (let i = 0; i < monthCount; i++) {
  const y = firstYear + Math.floor(i / 12), m = (i % 12) + 1;
  months.push(y + '-' + String(m).padStart(2, '0'));
}
function monthIndex(d) {
  const i = (+d.slice(0,4) - firstYear) * 12 + (+d.slice(5,7) - 1);
  return Math.min(Math.max(i, 0), monthCount - 1);
}

const panels = [
  {ax:['x','y'],  data:{tide:[dut1_tide_hi,dut1_tide_lo,dut1_tide_spk_d,dut1_tide_spk_v], lin:[dut1_lin_hi,dut1_lin_lo,dut1_lin_spk_d,dut1_lin_spk_v], l3:[dut1_l3_hi,dut1_l3_lo,dut1_l3_spk_d,dut1_l3_spk_v], l5:[dut1_l5_hi,dut1_l5_lo,dut1_l5_spk_d,dut1_l5_spk_v], iers:[dut1_iers_hi,dut1_iers_lo,dut1_iers_spk_d,dut1_iers_spk_v]}},
  {ax:['x2','y2'], data:{tide:[pm_tide_hi,pm_tide_lo,pm_tide_spk_d,pm_tide_spk_v], lin:[pm_lin_hi,pm_lin_lo,pm_lin_spk_d,pm_lin_spk_v], l3:[pm_l3_hi,pm_l3_lo,pm_l3_spk_d,pm_l3_spk_v], l5:[pm_l5_hi,pm_l5_lo,pm_l5_spk_d,pm_l5_spk_v], iers:[pm_iers_hi,pm_iers_lo,pm_iers_spk_d,pm_iers_spk_v]}},
  {ax:['x3','y3'], data:{tide:[dxy_tide_hi,dxy_tide_lo,dxy_tide_spk_d,dxy_tide_spk_v], lin:[dxy_lin_hi,dxy_lin_lo,dxy_lin_spk_d,dxy_lin_spk_v], l3:[dxy_l3_hi,dxy_l3_lo,dxy_l3_spk_d,dxy_l3_spk_v], l5:[dxy_l5_hi,dxy_l5_lo,dxy_l5_spk_d,dxy_l5_spk_v], iers:[dxy_iers_hi,dxy_iers_lo,dxy_iers_spk_d,dxy_iers_spk_v]}},
  {ax:['x4','y4'], data:{tide:[lod_tide_hi,lod_tide_lo,lod_tide_spk_d,lod_tide_spk_v], lin:[lod_lin_hi,lod_lin_lo,lod_lin_spk_d,lod_lin_spk_v], l3:[lod_l3_hi,lod_l3_lo,lod_l3_spk_d,lod_l3_spk_v], l5:[lod_l5_hi,lod_l5_lo,lod_l5_spk_d,lod_l5_spk_v], iers:[lod_iers_hi,lod_iers_lo,lod_iers_spk_d,lod_iers_spk_v]}}
];

const traces = [];
const legendDone = {};
panels.forEach((p) => {
  seriesKeys.forEach(key => {
    const [hi, lo, sd, sv] = p.data[key];
    if (!hi.length) return;
    const c = COLORS[key];
    const common = {xaxis:p.ax[0], yaxis:p.ax[1], hoverinfo:'skip'};
    const showLeg = !legendDone[key];
    const xh = months.map(m => m + '-01'), xl = months.map(m => m + '-16');
    traces.push(Object.assign({x: xh.concat(xl.slice().reverse()), y: hi.concat(lo.slice().reverse()),
      mode:'lines', fill:'toself', fillcolor:c, line:{width:0, color:c}, showlegend:false}, common));
    const zx = [], zy = [];
    for (let i = 0; i < months.length; i++) { zx.push(xh[i], xl[i]); zy.push(hi[i], lo[i]); }
    traces.push(Object.assign({x:zx, y:zy, mode:'lines+markers', name:seriesNames[key], legendgroup:key,
      showlegend:showLeg, legendrank:legendOrder[key], line:{color:c, width:LW}, marker:{color:c, size:MS}}, common));
    legendDone[key] = true;
    if (sd.length) {
      const sx = [], sy = [];
      sd.forEach((d, j) => {
        const i = monthIndex(d);
        const base = sv[j] > hi[i] ? hi[i] : lo[i];
        sx.push(d, d, null); sy.push(base, sv[j], null);
      });
      traces.push(Object.assign({x:sx, y:sy, mode:'lines+markers', showlegend:false, legendgroup:key,
        line:{color:c, width:LW}, marker:{color:c, size:MS}}, common));
    }
  });
});

// ---------- layout ----------
const W = 984, H = 808, mL = 80, mR = 0, mT = 36, mB = 98;
const pw = W - mL - mR, ph = H - mT - mB;
const px2x = px => (px - mL) / pw;
const px2y = py => (H - mB - py) / ph;
const xDomL = [0, px2x(483)], xDomR = [px2x(586), 1];
const yDomT = [px2y(334), 1], yDomB = [0, px2y(412)];
const tickFont = {family:'Liberation Sans, Arial, sans-serif', size:19, color:'#000'};
const gridCol = '#8a8a8a';

function xAxis(domain, anchor, end) {
  return {domain, anchor, type:'date', range:['2009-01-01', end], tickmode:'array', tickvals:xTickDates, ticktext:xTickText,
    tickfont:tickFont, ticks:'inside', ticklen:5, tickcolor:'#000', showline:true, mirror:'ticks', linecolor:'#000', linewidth:1,
    showgrid:true, gridcolor:gridCol, griddash:'1px,3px', gridwidth:1, zeroline:false};
}
function yAxis(domain, anchor, dec) {
  const vals = [], txt = [], minor = [];
  for (let e = dec[0]; e <= dec[1]; e++) {
    vals.push(Math.pow(10, e)); txt.push('1E−' + String(-e).padStart(2, '0'));
    if (e < dec[1]) for (let k = 2; k <= 9; k++) minor.push(k * Math.pow(10, e));
  }
  return {domain, anchor, type:'log', range:[dec[0], dec[1]], tickmode:'array', tickvals:vals, ticktext:txt,
    tickfont:tickFont, ticks:'inside', ticklen:5, tickcolor:'#000', showline:true, mirror:'ticks', linecolor:'#000', linewidth:1,
    showgrid:true, gridcolor:gridCol, griddash:'1px,3px', gridwidth:1, zeroline:false,
    minor:{tickmode:'array', tickvals:minor, ticks:'inside', ticklen:3, tickcolor:'#000', showgrid:true, gridcolor:gridCol, griddash:'1px,3px', gridwidth:1}};
}

const serifFam = 'Liberation Serif, Times New Roman, serif';
const titleFont = {family:serifFam, size:27, color:'#000'};
const layout = {
  width:W, height:H, margin:{l:mL, r:mR, t:mT, b:mB}, paper_bgcolor:'#fff', plot_bgcolor:'#fff',
  xaxis: xAxis(xDomL, 'y', '2015-03-13'), yaxis: yAxis(yDomT, 'x', yDecades[0]),
  xaxis2: xAxis(xDomR, 'y2', '2015-02-19'), yaxis2: yAxis(yDomT, 'x2', yDecades[1]),
  xaxis3: xAxis(xDomL, 'y3', '2015-03-13'), yaxis3: yAxis(yDomB, 'x3', yDecades[2]),
  xaxis4: xAxis(xDomR, 'y4', '2015-02-19'), yaxis4: yAxis(yDomB, 'x4', yDecades[3]),
  showlegend:true,
  legend:{orientation:'h', x:px2x(503), xanchor:'center', y:px2y(762), yanchor:'top', bgcolor:'#fff',
    bordercolor:'#222', borderwidth:1, font:{family:serifFam, size:28, color:'#000'}, itemwidth:44, traceorder:'normal'},
  annotations: [
    {text:panelTitles[0], x:px2x(281.5), y:px2y(22)},
    {text:panelTitles[1], x:px2x(787.5), y:px2y(22)},
    {text:panelTitles[2], x:px2x(281.5), y:px2y(396)},
    {text:panelTitles[3], x:px2x(787.5), y:px2y(396)}
  ].map(a => Object.assign({xref:'paper', yref:'paper', xanchor:'center', yanchor:'middle', showarrow:false, font:titleFont}, a))
};

Plotly.newPlot('chart', traces, layout, {displayModeBar:false, staticPlot:true});
</script>
</body>
</html>
